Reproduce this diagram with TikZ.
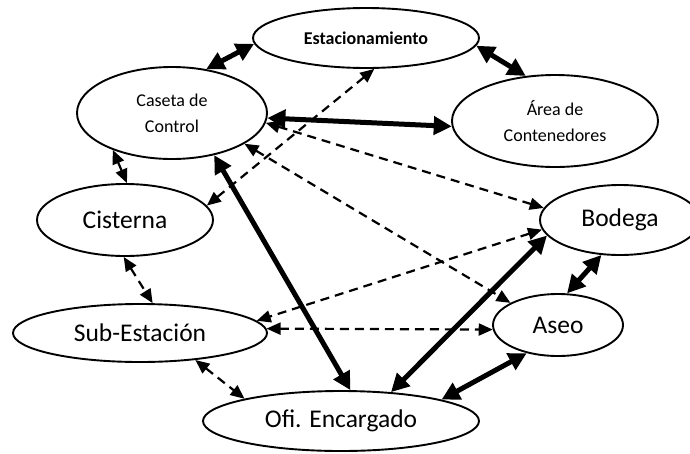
\documentclass[tikz,border=0pt]{standalone}
\usepackage{fontspec}
\setmainfont{Carlito}
\usetikzlibrary{shapes.geometric,arrows.meta}
\tikzset{
  place/.style={draw, ellipse, line width=1.9pt, inner sep=0pt, align=center, fill=white},
  bigtext/.style={font={\fontsize{25.5}{30}\selectfont}},
  smalltext/.style={font={\fontsize{18}{26}\selectfont}},
  strong/.style={line width=5pt, {Triangle[length=18pt,width=18pt]}-{Triangle[length=18pt,width=18pt]}},
  weak/.style={line width=2.2pt, dash pattern=on 9pt off 6pt, {Triangle[length=14pt,width=12pt]}-{Triangle[length=14pt,width=12pt]}}
}
\begin{document}
\begin{tikzpicture}[x=1pt,y=-1pt]
\useasboundingbox (0,0) rectangle (690,453);
\node[place, minimum width=226pt, minimum height=60pt, font={\fontsize{18}{22}\selectfont\bfseries}] (est) at (366,38) {Estacionamiento};
\node[place, smalltext, minimum width=190pt, minimum height=92pt] (cas) at (172,113) {Caseta de\\Control};
\node[place, smalltext, minimum width=206pt, minimum height=92pt] (area) at (555,121) {Área de\\Contenedores};
\node[place, bigtext, minimum width=176pt, minimum height=72pt] (cis) at (125,220) {Cisterna};
\node[place, bigtext, minimum width=160pt, minimum height=70pt] (bod) at (620,220) {Bodega};
\node[place, bigtext, minimum width=254pt, minimum height=58pt] (sub) at (140,333) {Sub-Estación};
\node[place, bigtext, minimum width=276pt, minimum height=60pt] (ofi) at (341,421) {Ofi. Encargado};
\node[place, bigtext, minimum width=130pt, minimum height=62pt] (aseo) at (558,325) {Aseo};

% dashed connectors
\draw[weak] (est.285) -- (cis.10);
\draw[weak] (cas.212) -- (cis.87);
\draw[weak] (cas.354) -- (bod.171);
\draw[weak] (cas.337) -- (aseo.155);
\draw[weak] (bod.187) -- (sub.6);
\draw[weak] (sub.2) -- (aseo.184);
\draw[weak] (cis.268) -- (sub.67);
\draw[weak] (sub.334) -- (ofi.167);

% solid connectors
\draw[strong] (cas.52) -- (est.183);
\draw[strong] (est.356) -- (area.123);
\draw[strong] (cas.357) -- (area.183);
\draw[strong] (cas.315) -- (ofi.73);
\draw[strong] (bod.192) -- (ofi.30);
\draw[strong] (aseo.222) -- (ofi.12);
\draw[strong] (bod.242) -- (aseo.74);
\end{tikzpicture}
\end{document}
